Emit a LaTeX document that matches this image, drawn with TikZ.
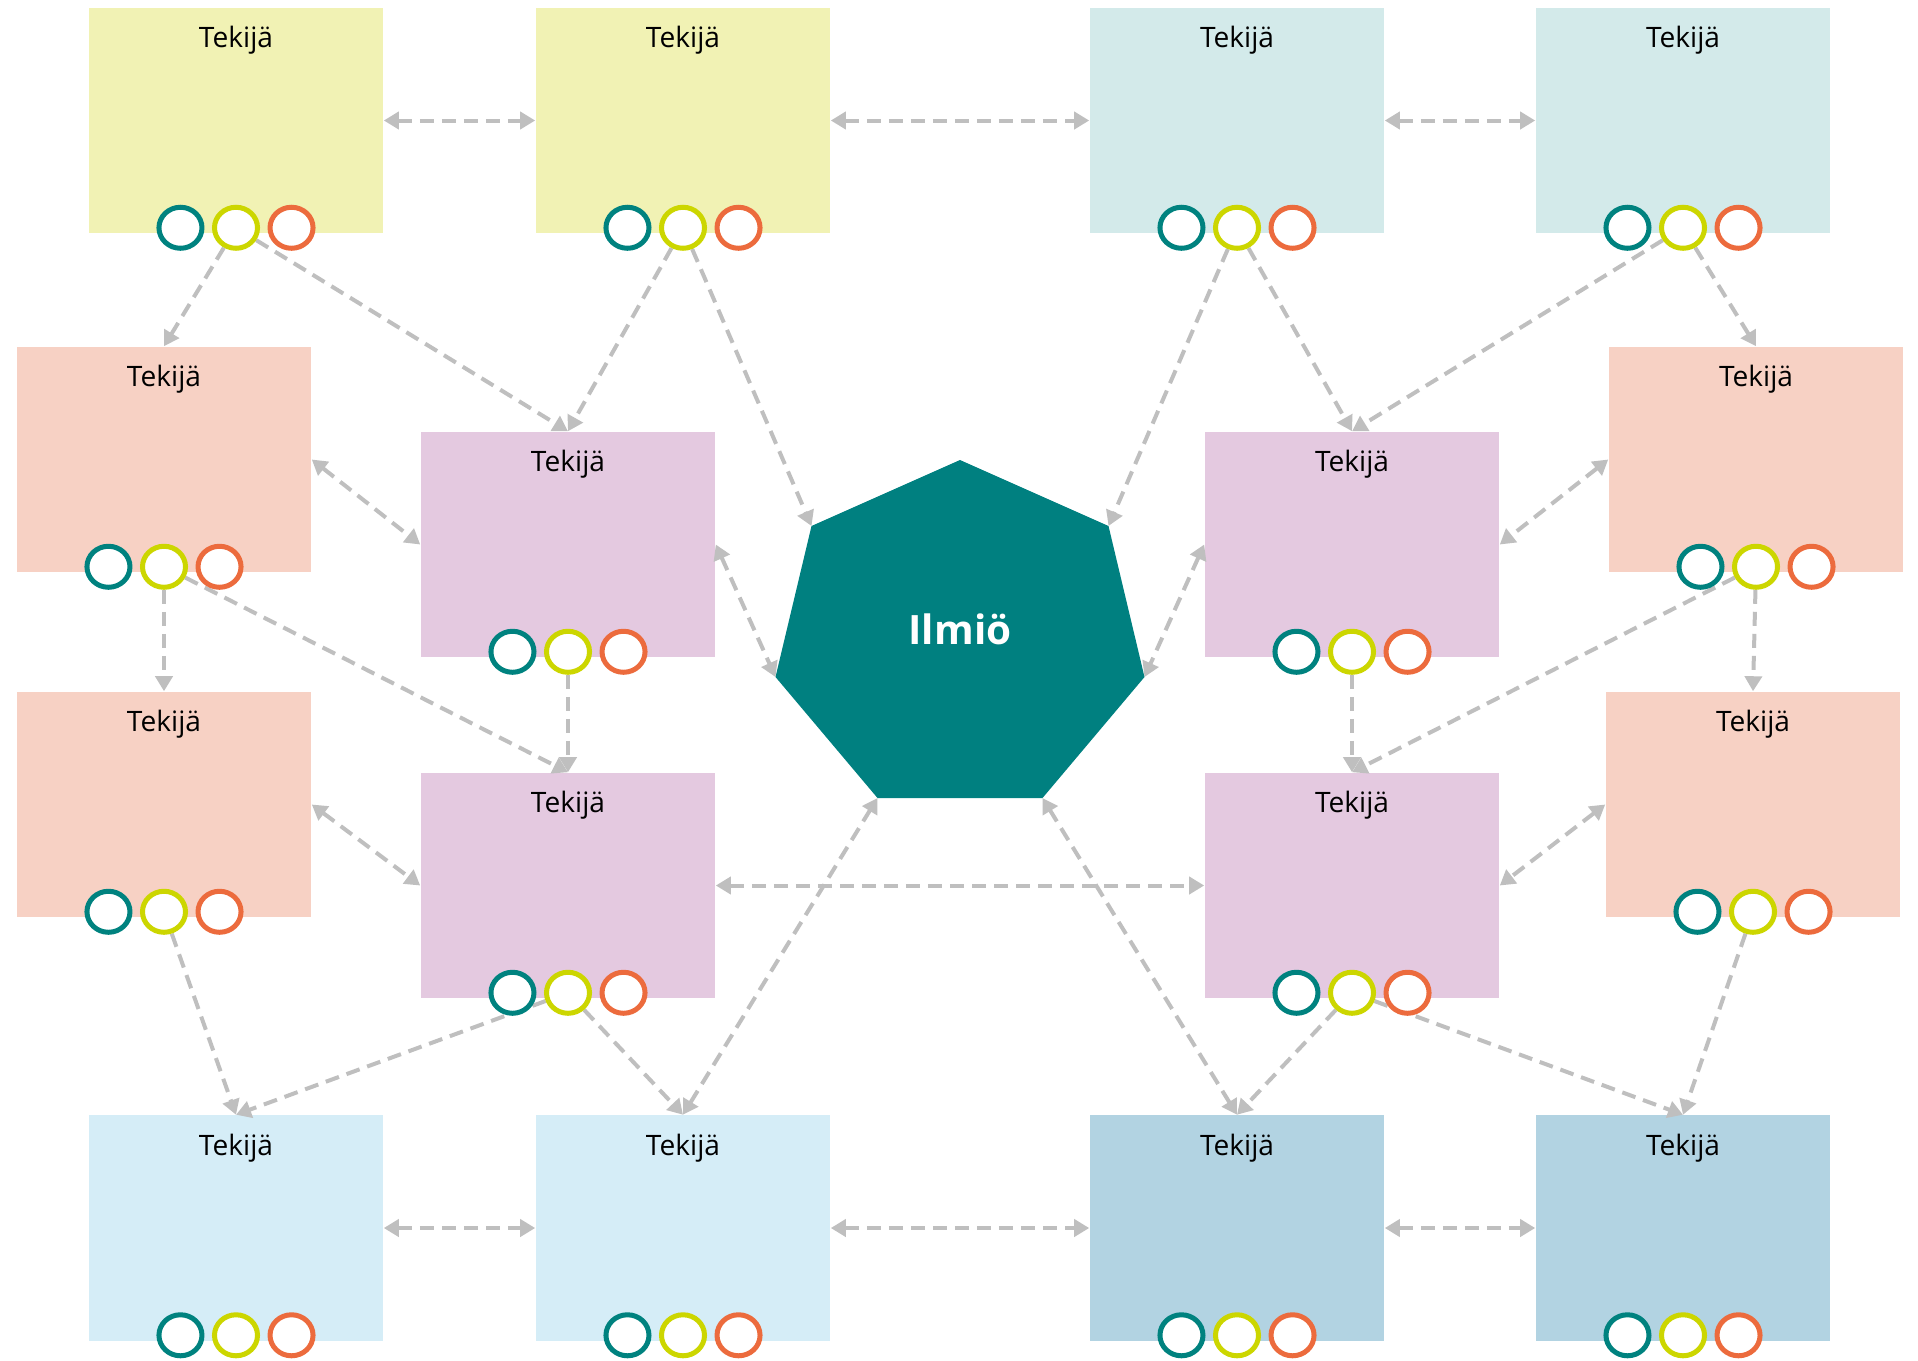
\documentclass[tikz,border=0pt]{standalone}
\usepackage{fontspec}
\setmainfont{Open Sans}
\usetikzlibrary{shapes.geometric, arrows.meta, positioning}
\definecolor{boxyellow}{HTML}{F1F2B4}
\definecolor{boxteal}{HTML}{D3EAEA}
\definecolor{boxpeach}{HTML}{F7D1C4}
\definecolor{boxpurple}{HTML}{E4C9E0}
\definecolor{boxblue}{HTML}{D5EDF7}
\definecolor{boxdarkblue}{HTML}{B2D3E2}
\definecolor{hepteal}{HTML}{008080}
\definecolor{ringteal}{HTML}{00827F}
\definecolor{ringyellow}{HTML}{CCD600}
\definecolor{ringorange}{HTML}{EC6B3D}
\definecolor{linegray}{HTML}{BFBFBF}
\pgfdeclarelayer{boxes}
\pgfdeclarelayer{lines}
\pgfsetlayers{boxes,lines,main}
\tikzstyle{tekija} = [rectangle, minimum width=2.94cm, inner sep=0pt, text height=0.4cm, text depth=1.85cm, font=\fontsize{8}{10}\selectfont]
\tikzstyle{yellowbox} = [tekija, fill=boxyellow]
\tikzstyle{tealbox} = [tekija, fill=boxteal]
\tikzstyle{peachbox} = [tekija, fill=boxpeach]
\tikzstyle{purplebox} = [tekija, fill=boxpurple]
\tikzstyle{bluebox} = [tekija, fill=boxblue]
\tikzstyle{darkbluebox} = [tekija, fill=boxdarkblue]
\tikzstyle{ring} = [ellipse, minimum width=0.43cm, minimum height=0.41cm, inner sep=0pt, line width=0.05cm, fill=white]
\tikzstyle{arrow} = [line width=0.04cm, draw=linegray, dash pattern=on 0.14cm off 0.08cm, >={Triangle[length=0.15cm, width=0.17cm]}, ->]
\tikzstyle{twoway} = [arrow, <->]

\begin{document}
\begin{tikzpicture}[x=0.01cm, y=-0.01cm]
            \useasboundingbox (0,0) rectangle (1918,1360);
            \begin{pgfonlayer}{boxes}
            \node [yellowbox] at (236,120.5) (t1) {Tekijä};
            \node [yellowbox] at (683,120.5) (t2) {Tekijä};
            \node [tealbox] at (1237,120.5) (t3) {Tekijä};
            \node [tealbox] at (1683,120.5) (t4) {Tekijä};
            \node [peachbox] at (164,459.5) (l1) {Tekijä};
            \node [peachbox] at (164,804.5) (l2) {Tekijä};
            \node [purplebox] at (568,544.5) (m1) {Tekijä};
            \node [purplebox] at (568,885.5) (m2) {Tekijä};
            \node [purplebox] at (1352,544.5) (m3) {Tekijä};
            \node [purplebox] at (1352,885.5) (m4) {Tekijä};
            \node [peachbox] at (1756,459.5) (r1) {Tekijä};
            \node [peachbox] at (1753,804.5) (r2) {Tekijä};
            \node [bluebox] at (236,1228) (b1) {Tekijä};
            \node [bluebox] at (683,1228) (b2) {Tekijä};
            \node [darkbluebox] at (1237,1228) (b3) {Tekijä};
            \node [darkbluebox] at (1683,1228) (b4) {Tekijä};
            \end{pgfonlayer}
            % three rings under every box
            \foreach \n in {t1,t2,t3,t4,l1,l2,m1,m2,m3,m4,r1,r2,b1,b2,b3,b4} {
                \node [ring, draw=ringyellow] at ([yshift=0.06cm]\n.south) (\n-y) {};
                \node [ring, draw=ringteal, left=0.075cm of \n-y] (\n-t) {};
                \node [ring, draw=ringorange, right=0.075cm of \n-y] (\n-o) {};
            }
            % heptagon
            \coordinate (h1) at (960,460);
            \coordinate (h2) at (811.5,526);
            \coordinate (h3) at (775.5,677);
            \coordinate (h4) at (877.5,798);
            \coordinate (h5) at (1042.5,798);
            \coordinate (h6) at (1144.5,677);
            \coordinate (h7) at (1108.5,526);
            \fill [hepteal] (h1) -- (h2) -- (h3) -- (h4) -- (h5) -- (h6) -- (h7) -- cycle;
            \node [anchor=base, text=white, font=\fontsize{11.5}{14}\selectfont\bfseries] at (960,644) (ilmio) {Ilmiö};
            \begin{pgfonlayer}{lines}
            \draw [twoway] (t1.east) -- (t2.west);
            \draw [twoway] (t2.east) -- (t3.west);
            \draw [twoway] (t3.east) -- (t4.west);
            \draw [twoway] (b1.east) -- (b2.west);
            \draw [twoway] (b2.east) -- (b3.west);
            \draw [twoway] (b3.east) -- (b4.west);
            \draw [twoway] (l1.east) -- (m1.west);
            \draw [twoway] (l2.east) -- (m2.west);
            \draw [twoway] (r1.west) -- (m3.east);
            \draw [twoway] (r2.west) -- (m4.east);
            \draw [twoway] (m2.east) -- (m4.west);
            \draw [twoway] (m1.east) -- (h3);
            \draw [twoway] (m3.west) -- (h6);
            \draw [twoway] (b2.north) -- (h4);
            \draw [twoway] (b3.north) -- (h5);
            \draw [arrow] (t1-y) -- (l1.north);
            \draw [arrow] (t1-y) -- (m1.north);
            \draw [arrow] (t2-y) -- (m1.north);
            \draw [arrow] (t2-y) -- (h2);
            \draw [arrow] (t3-y) -- (h7);
            \draw [arrow] (t3-y) -- (m3.north);
            \draw [arrow] (t4-y) -- (m3.north);
            \draw [arrow] (t4-y) -- (r1.north);
            \draw [arrow] (l1-y) -- (l2.north);
            \draw [arrow] (l1-y) -- (m2.north);
            \draw [arrow] (m1-y) -- (m2.north);
            \draw [arrow] (r1-y) -- (r2.north);
            \draw [arrow] (r1-y) -- (m4.north);
            \draw [arrow] (m3-y) -- (m4.north);
            \draw [arrow] (l2-y) -- (b1.north);
            \draw [arrow] (m2-y) -- (b1.north);
            \draw [arrow] (m2-y) -- (b2.north);
            \draw [arrow] (m4-y) -- (b3.north);
            \draw [arrow] (m4-y) -- (b4.north);
            \draw [arrow] (r2-y) -- (b4.north);
            \end{pgfonlayer}
\end{tikzpicture}
\end{document}
